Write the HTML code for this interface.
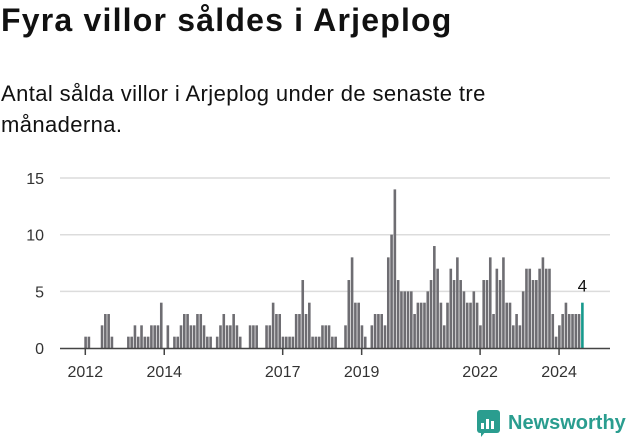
<!DOCTYPE html>
<html><head><meta charset="utf-8">
<style>
body{margin:0;width:631px;height:439px;background:#fff;overflow:hidden;font-family:"Liberation Sans",sans-serif;color:#111}
h1{position:absolute;left:1px;top:2px;margin:0;font-size:32px;font-weight:bold;letter-spacing:1.2px}
p{position:absolute;left:1px;top:78px;margin:0;font-size:22px;line-height:31px;width:530px;letter-spacing:0.4px}
svg{position:absolute;left:0;top:0}
</style></head><body>
<h1>Fyra villor såldes i Arjeplog</h1>
<p>Antal sålda villor i Arjeplog under de senaste tre<br>månaderna.</p>
<svg id="c" width="631" height="439"></svg>
<script>
const values=[1,1,0,0,0,2,3,3,1,0,0,0,0,1,1,2,1,2,1,1,2,2,2,4,0,2,0,1,1,2,3,3,2,2,3,3,2,1,1,0,1,2,3,2,2,3,2,1,0,0,2,2,
2,0,0,2,2,4,3,3,1,1,1,1,3,3,6,3,4,1,1,1,2,2,2,1,1,0,0,2,6,8,4,4,2,1,0,2,3,3,3,2,8,10,14,6,5,5,5,5,3,4,4,4,5,6,9,7,4,2,4,7,6,8,6,5,4,4,5,4,2,6,6,8,3,7,6,8,4,4,2,3,2,5,7,7,6,6,7,8,7,7,3,1,2,3,4,3,3,3,3,4];
const yTicks=[0,5,10,15];
const xTickYears=[2012,2014,2017,2019,2022,2024];
const startYear=2012;
const NS="http://www.w3.org/2000/svg";
const svg=document.getElementById('c');
const x=m=>84.3+3.29*m;
const y=v=>348-v*11.33;
function mk(t,a){const e=document.createElementNS(NS,t);for(const k in a)e.setAttribute(k,a[k]);svg.appendChild(e);return e;}
yTicks.forEach(v=>{
  if(v>0){const g=mk('line',{x1:60,x2:610,y1:y(v),y2:y(v),stroke:'#dcdcdc','stroke-width':1.5});
  
  }
  const t=mk('text',{x:44,y:y(v)+6,'text-anchor':'end','font-size':16,fill:'#333','font-family':'Liberation Sans, sans-serif'});
  t.textContent=v;
  
  
});
values.forEach((v,i)=>{
  if(v<=0)return;
  const last=i===values.length-1;
  const r=mk('rect',{x:x(i),y:y(v),width:2.6,height:v*11.33,fill:last?'#17998c':'#6e6d72'});
  
  
});
const lv=values.length-1;
const lab=mk('text',{x:x(lv)+1.3,y:y(values[lv])-11,'text-anchor':'middle','font-size':17,fill:'#111','font-family':'Liberation Sans, sans-serif'});
lab.textContent=values[lv];


const ax=mk('line',{x1:60,x2:610,y1:348.5,y2:348.5,stroke:'#444','stroke-width':1.5});


xTickYears.forEach(yr=>{
  const xx=x((yr-startYear)*12)+1;
  const tk=mk('line',{x1:xx,x2:xx,y1:348,y2:355,stroke:'#444','stroke-width':1.5});
  
  
  const t=mk('text',{x:xx,y:377,'text-anchor':'middle','font-size':16,fill:'#333','font-family':'Liberation Sans, sans-serif'});
  t.textContent=yr;
  
  
});
</script>
<svg width="631" height="439">
<rect x="477" y="410" width="23" height="23" rx="3" fill="#2a9d8f"/>
<path d="M481 437 L486 431 L481 431 Z" fill="#2a9d8f"/>
<rect x="481" y="423" width="3" height="6" fill="#fff"/><rect x="486" y="419" width="3" height="10" fill="#fff"/><rect x="491" y="421" width="3" height="8" fill="#fff"/>
<text x="508" y="429" font-size="20" font-weight="bold" fill="#2a9d8f" font-family="Liberation Sans, sans-serif">Newsworthy</text>
</svg>
</body></html>
